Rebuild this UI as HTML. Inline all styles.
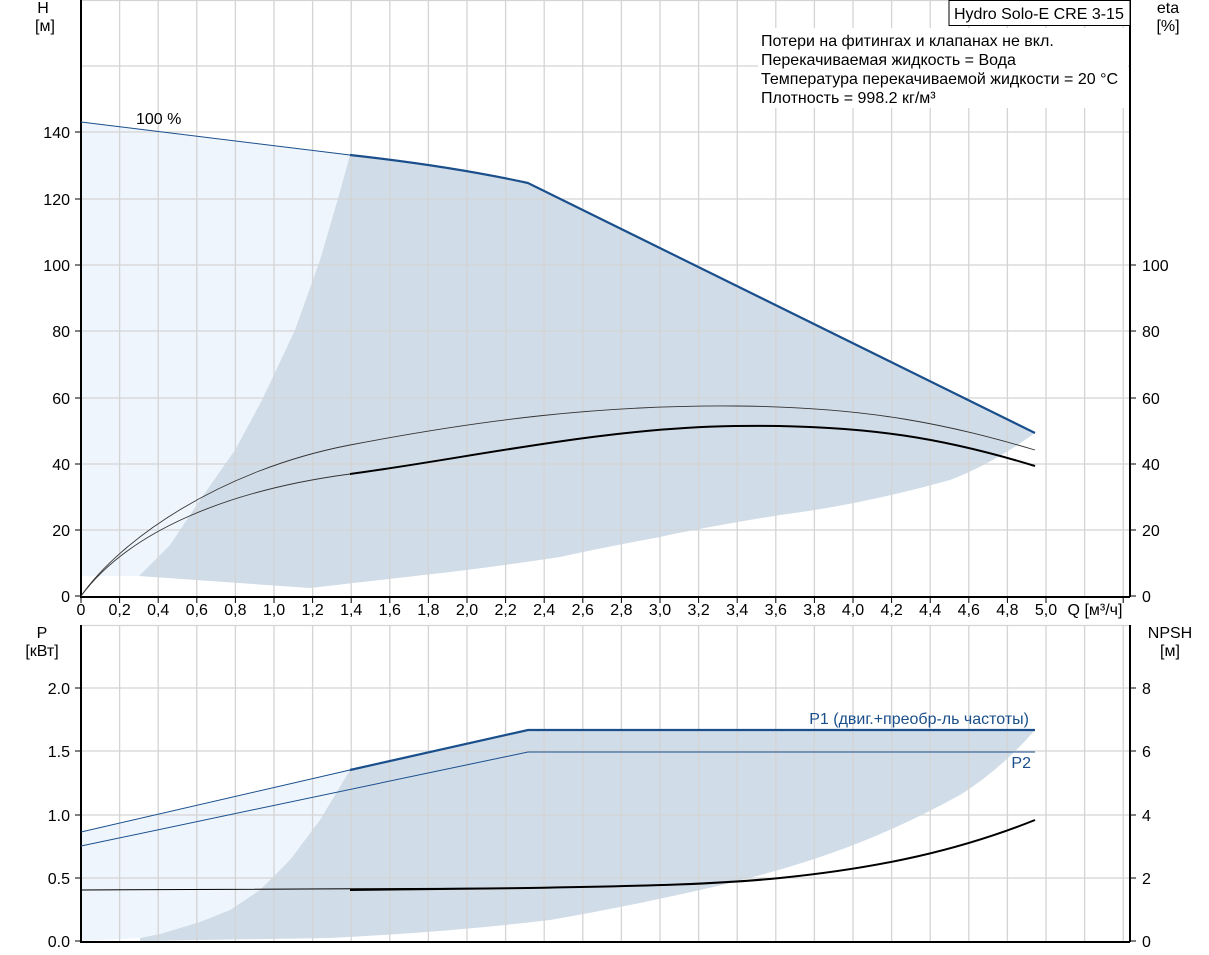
<!DOCTYPE html>
<html><head><meta charset="utf-8"><style>
html,body{margin:0;padding:0;background:#fff;}
svg{display:block;font-family:"Liberation Sans",sans-serif;}
</style></head><body>
<svg width="1209" height="955" viewBox="0 0 1209 955" xmlns="http://www.w3.org/2000/svg">
<defs><clipPath id="cr"><rect x="350" y="0" width="800" height="955"/></clipPath></defs>
<path d="M81,122 L350,155 L339,195 L320,260 L295,330 L262,400 L235,450 L200,500 L170,545 L139,576 L81,576 Z" fill="#eef5fd"/>
<path d="M350,155 Q450,166 528,183 L1035,433 Q990,465 950,480 Q860,505 780,515 Q700,528 660,537 Q600,548 560,557 Q500,566 450,572 Q380,580 310,588 L139,576 L170,545 L200,500 L235,450 L262,400 L295,330 L320,260 L339,195 Z" fill="#d0dce7"/>
<path d="M81,832 L350,770 L320,820 L290,860 L260,890 L230,910 L200,922 L160,934 L140,938 L81,941 Z" fill="#eef5fd"/>
<path d="M350,770 L528,730 L1035,730 Q1000,770 960,795 Q900,828 840,850 Q780,872 700,890 Q620,908 550,920 Q450,932 330,938 L140,941 L140,938 L160,934 L200,922 L230,910 L260,890 L290,860 L320,820 Z" fill="#d0dce7"/>
<g stroke="#d4d4d4" stroke-width="1.3" fill="none">
<path d="M119.6,0V596M158.2,0V596M196.8,0V596M235.4,0V596M274,0V596M312.6,0V596M351.2,0V596M389.8,0V596M428.4,0V596M467,0V596M505.6,0V596M544.2,0V596M582.8,0V596M621.4,0V596M660,0V596M698.6,0V596M737.2,0V596M775.8,0V596M814.4,0V596M853,0V596M891.6,0V596M930.2,0V596M968.8,0V596M1007.4,0V596M1046,0V596M1084.6,0V596M1123.2,0V596"/>
<path d="M119.6,625V941M158.2,625V941M196.8,625V941M235.4,625V941M274,625V941M312.6,625V941M351.2,625V941M389.8,625V941M428.4,625V941M467,625V941M505.6,625V941M544.2,625V941M582.8,625V941M621.4,625V941M660,625V941M698.6,625V941M737.2,625V941M775.8,625V941M814.4,625V941M853,625V941M891.6,625V941M930.2,625V941M968.8,625V941M1007.4,625V941M1046,625V941M1084.6,625V941M1123.2,625V941"/>
<path d="M81,530H1130M81,464H1130M81,398H1130M81,331H1130M81,265H1130M81,199H1130M81,132H1130M81,66H1130M81,0.5H1130"/>
<path d="M81,878H1130M81,815H1130M81,751H1130M81,688H1130M81,625.5H1130"/>
</g>
<g stroke="#000" stroke-width="2" fill="none">
<path d="M81,0V597H1130M1130,0V597"/>
<path d="M81,625V942H1130M1130,625V942"/>
</g>
<g stroke="#000" stroke-width="1">
<path d="M75,596H81M75,530H81M75,464H81M75,398H81M75,331H81M75,265H81M75,199H81M75,132H81"/>
<path d="M1130,596H1136M1130,530H1136M1130,464H1136M1130,398H1136M1130,331H1136M1130,265H1136"/>
<path d="M75,941H81M75,878H81M75,815H81M75,751H81M75,688H81M1130,941H1136M1130,878H1136M1130,815H1136M1130,751H1136M1130,688H1136"/>
<path d="M81,597V603M119.6,597V603M158.2,597V603M196.8,597V603M235.4,597V603M274,597V603M312.6,597V603M351.2,597V603M389.8,597V603M428.4,597V603M467,597V603M505.6,597V603M544.2,597V603M582.8,597V603M621.4,597V603M660,597V603M698.6,597V603M737.2,597V603M775.8,597V603M814.4,597V603M853,597V603M891.6,597V603M930.2,597V603M968.8,597V603M1007.4,597V603M1046,597V603M1123.2,597V603"/>
</g>
<path d="M81,122 L350,155" stroke="#1a4f8c" stroke-width="1" fill="none"/>
<path d="M350,155 Q450,166 528,183 L1035,433" stroke="#1a4f8c" stroke-width="2.2" fill="none"/>
<path d="M81,596 C120,540 220,470 350,445 S600,405 735,406 S950,425 1035,450" stroke="#333" stroke-width="0.9" fill="none"/>
<path d="M81,596 C130,530 230,490 350,474 S600,428 735,426 S950,440 1035,466" stroke="#333" stroke-width="0.9" fill="none"/>
<path d="M81,596 C130,530 230,490 350,474 S600,428 735,426 S950,440 1035,466" stroke="#000" stroke-width="2" fill="none" clip-path="url(#cr)"/>
<path d="M81,832 L350,770" stroke="#1a4f8c" stroke-width="1" fill="none"/>
<path d="M350,770 L528,730 L1035,730" stroke="#1a4f8c" stroke-width="2.2" fill="none"/>
<path d="M81,846 L528,752 L1035,752" stroke="#1a4f8c" stroke-width="1" fill="none"/>
<path d="M81,890 L528,888 C650,886 720,884 780,878 C880,868 960,850 1035,820" stroke="#000" stroke-width="1" fill="none"/>
<path d="M350,890 L528,888 C650,886 720,884 780,878 C880,868 960,850 1035,820" stroke="#000" stroke-width="2" fill="none"/>
<g font-size="16" fill="#000">
<g text-anchor="end">
<text x="70" y="602">0</text><text x="70" y="536">20</text><text x="70" y="470">40</text><text x="70" y="404">60</text><text x="70" y="337">80</text><text x="70" y="271">100</text><text x="70" y="205">120</text><text x="70" y="138">140</text>
<text x="70" y="947">0.0</text><text x="70" y="884">0.5</text><text x="70" y="821">1.0</text><text x="70" y="757">1.5</text><text x="70" y="694">2.0</text>
</g>
<text x="1142" y="602">0</text><text x="1142" y="536">20</text><text x="1142" y="470">40</text><text x="1142" y="404">60</text><text x="1142" y="337">80</text><text x="1142" y="271">100</text>
<text x="1142" y="947">0</text><text x="1142" y="884">2</text><text x="1142" y="821">4</text><text x="1142" y="757">6</text><text x="1142" y="694">8</text>
<g text-anchor="middle">
<text x="81" y="615">0</text><text x="119.6" y="615">0,2</text><text x="158.2" y="615">0,4</text><text x="196.8" y="615">0,6</text><text x="235.4" y="615">0,8</text><text x="274" y="615">1,0</text><text x="312.6" y="615">1,2</text><text x="351.2" y="615">1,4</text><text x="389.8" y="615">1,6</text><text x="428.4" y="615">1,8</text><text x="467" y="615">2,0</text><text x="505.6" y="615">2,2</text><text x="544.2" y="615">2,4</text><text x="582.8" y="615">2,6</text><text x="621.4" y="615">2,8</text><text x="660" y="615">3,0</text><text x="698.6" y="615">3,2</text><text x="737.2" y="615">3,4</text><text x="775.8" y="615">3,6</text><text x="814.4" y="615">3,8</text><text x="853" y="615">4,0</text><text x="891.6" y="615">4,2</text><text x="930.2" y="615">4,4</text><text x="968.8" y="615">4,6</text><text x="1007.4" y="615">4,8</text><text x="1046" y="615">5,0</text>
<text x="1095" y="615">Q [м³/ч]</text>
<text x="43" y="13">H</text><text x="45" y="31">[м]</text>
<text x="1168" y="13">eta</text><text x="1168" y="31">[%]</text>
<text x="42" y="638">P</text><text x="42" y="656">[кВт]</text>
<text x="1170" y="638">NPSH</text><text x="1170" y="656">[м]</text>
</g>
<text x="136" y="124">100 %</text>
<rect x="949" y="0.5" width="181" height="25" fill="#fff" stroke="#000" stroke-width="1"/>
<text x="954" y="19">Hydro Solo-E CRE 3-15</text>
<rect x="758" y="28" width="370" height="80" fill="#fff"/>
<text x="761" y="46">Потери на фитингах и клапанах не вкл.</text>
<text x="761" y="65">Перекачиваемая жидкость = Вода</text>
<text x="761" y="84">Температура перекачиваемой жидкости = 20 °C</text>
<text x="761" y="103">Плотность = 998.2 кг/м³</text>
<text x="1029" y="724" text-anchor="end" fill="#1a4f8c">P1 (двиг.+преобр-ль частоты)</text>
<text x="1031" y="768" text-anchor="end" fill="#1a4f8c">P2</text>
</g>
</svg>
</body></html>
